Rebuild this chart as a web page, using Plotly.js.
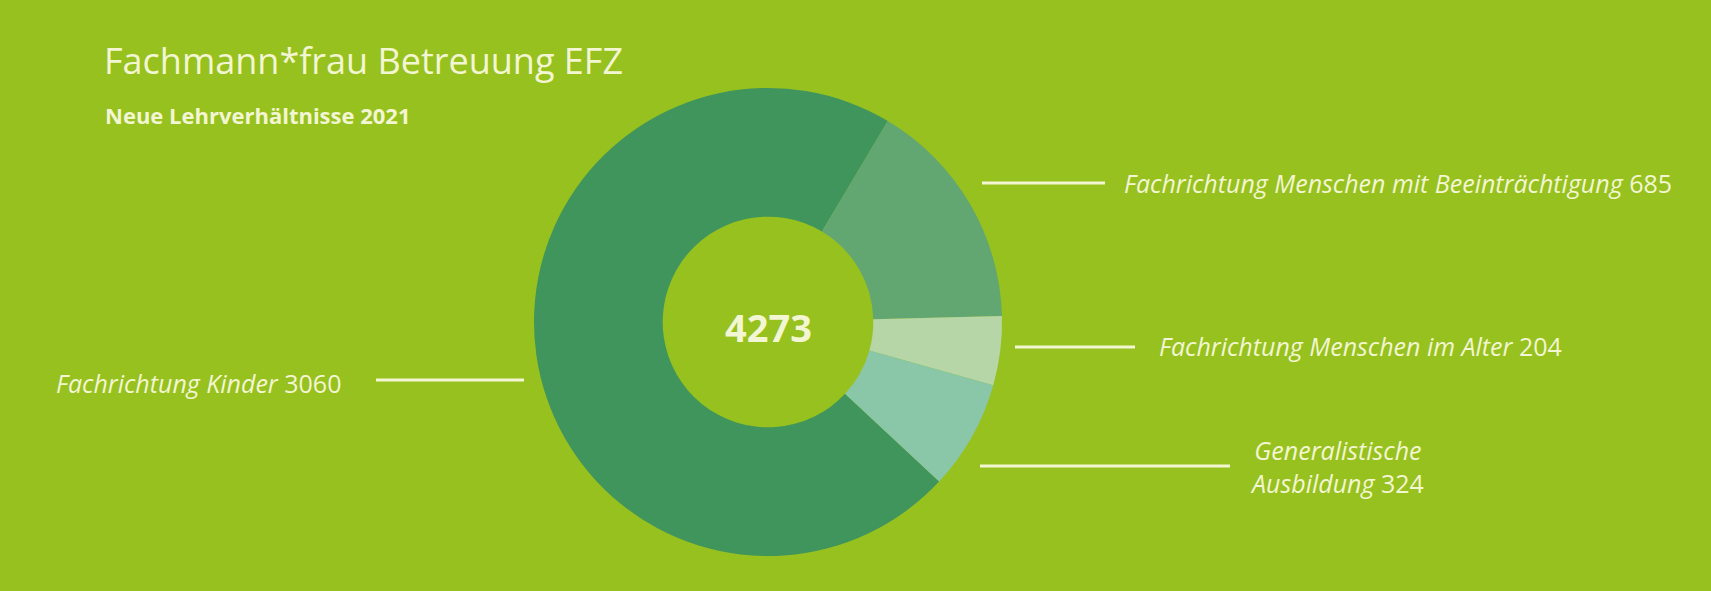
<!DOCTYPE html>
<html>
<head>
<meta charset="utf-8">
<script src="https://cdn.plot.ly/plotly-3.0.1.min.js"></script>
<style>html,body{margin:0;padding:0;background:#97c11f;}#chart{width:1711px;height:591px;}</style>
</head>
<body>
<div id="chart"></div>
<script>
// Data
const categories = ['Fachrichtung Kinder', 'Fachrichtung Menschen mit Beeinträchtigung', 'Fachrichtung Menschen im Alter', 'Generalistische Ausbildung'];
const values = [3060, 685, 204, 324];
const colors = ['#40955c', '#62a772', '#b6d6a8', '#8ac6a8'];
const titleText = 'Fachmann*frau Betreuung EFZ';
const subtitleText = 'Neue Lehrverhältnisse 2021';

const total = values.reduce((a, b) => a + b, 0);
const W = 1711, H = 591;
const labelColor = '#f3f6d2';
const labelFont = {family: 'Open Sans, sans-serif', size: 25, color: labelColor};

const cx = 768, cy = 322, r = 234;

const trace = {
  type: 'pie',
  labels: categories,
  values: values,
  sort: false,
  direction: 'clockwise',
  rotation: 133,
  hole: 0.45,
  textinfo: 'none',
  hoverinfo: 'label+value',
  marker: {colors: colors, line: {width: 0}},
  domain: {x: [(cx - r) / W, (cx + r) / W], y: [(H - cy - r) / H, (H - cy + r) / H]},
  showlegend: false
};

function px(x) { return x / W; }
function py(y) { return 1 - y / H; }

const lineSeg = (x0, x1, y) => ({type: 'line', xref: 'paper', yref: 'paper', x0: px(x0), x1: px(x1), y0: py(y), y1: py(y), line: {color: labelColor, width: 3}});

const layout = {
  width: W, height: H,
  margin: {l: 0, r: 0, t: 0, b: 0},
  paper_bgcolor: '#97c11f',
  plot_bgcolor: '#97c11f',
  title: {text: titleText, x: px(104), xanchor: 'left', xref: 'paper', y: py(61), yanchor: 'middle', yref: 'container', font: {family: 'Open Sans, sans-serif', size: 36, color: labelColor}},
  shapes: [
    lineSeg(982, 1105, 183),
    lineSeg(1015, 1135, 347),
    lineSeg(980, 1230, 466),
    lineSeg(376, 524, 380)
  ],
  annotations: [
    {text: '<b>' + subtitleText + '</b>', x: px(103), y: py(115), xref: 'paper', yref: 'paper', xanchor: 'left', yanchor: 'middle', showarrow: false, font: {family: 'Open Sans, sans-serif', size: 22, color: labelColor}},
    {text: '<b>' + total + '</b>', x: px(cx), y: py(327), xref: 'paper', yref: 'paper', xanchor: 'center', yanchor: 'middle', showarrow: false, font: {family: 'Open Sans, sans-serif', size: 38, color: labelColor}},
    {text: '<i>Fachrichtung Menschen mit Beeinträchtigung</i> ' + values[1], x: px(1122), y: py(183), xref: 'paper', yref: 'paper', xanchor: 'left', yanchor: 'middle', showarrow: false, font: labelFont},
    {text: '<i>Fachrichtung Menschen im Alter</i> ' + values[2], x: px(1157), y: py(346), xref: 'paper', yref: 'paper', xanchor: 'left', yanchor: 'middle', showarrow: false, font: labelFont},
    {text: '<i>Generalistische</i><br><i>Ausbildung</i> ' + values[3], x: px(1337), y: py(466), xref: 'paper', yref: 'paper', xanchor: 'center', yanchor: 'middle', align: 'center', showarrow: false, font: labelFont},
    {text: '<i>Fachrichtung Kinder</i> ' + values[0], x: px(54), y: py(383), xref: 'paper', yref: 'paper', xanchor: 'left', yanchor: 'middle', showarrow: false, font: labelFont}
  ]
};

Plotly.newPlot('chart', [trace], layout, {displayModeBar: false, staticPlot: true});
</script>
</body>
</html>
